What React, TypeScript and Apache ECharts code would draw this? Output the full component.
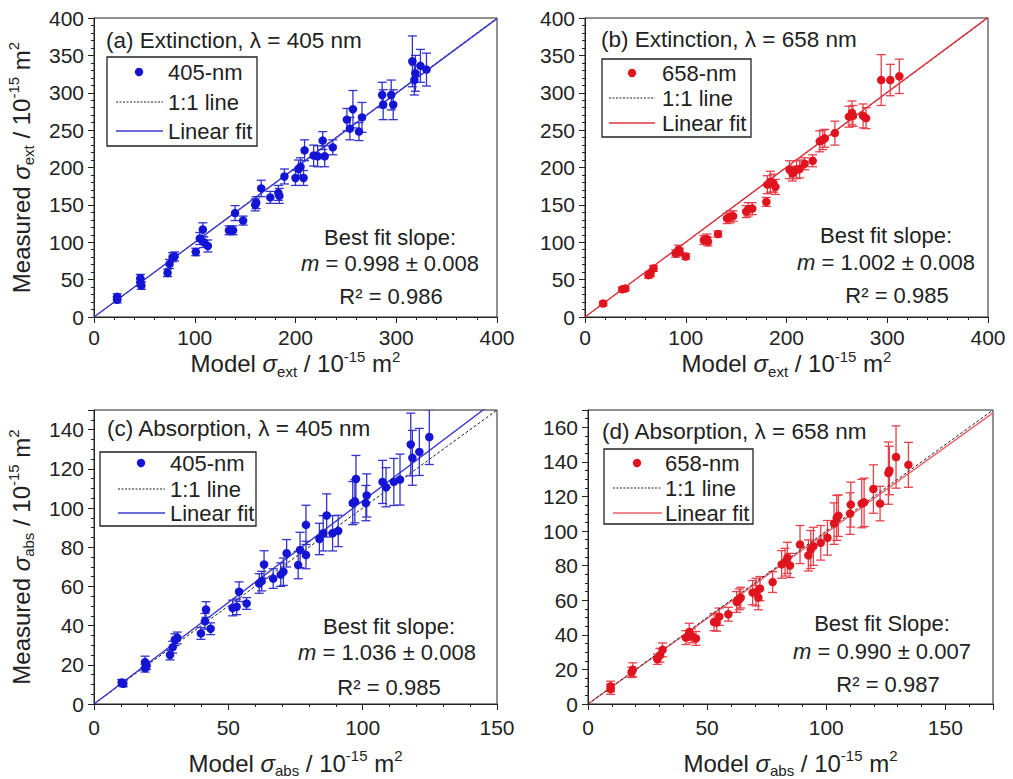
import React, { useEffect, useRef } from 'react';
import * as echarts from 'echarts';

const F = '"Liberation Sans", Arial, Helvetica, sans-serif';

// Panel (a): Extinction 405 nm  (model, measured, error)
const aX = [23, 23, 46, 46, 47, 73, 75, 78, 80, 101, 105, 108, 109, 113, 134, 138, 140, 148, 160, 161, 166, 175, 183, 184, 189, 200, 203, 205, 208, 209, 218, 222, 227, 229, 237, 251, 257, 254, 263, 266, 286, 287, 295, 297, 316, 319, 318, 324, 330];
const aY = [27, 23, 52, 46, 42, 59, 71, 80, 81, 87, 105, 117, 100, 95, 116, 116, 139, 129, 150, 153, 172, 160, 166, 162, 188, 186, 198, 201, 186, 223, 216, 215, 236, 215, 227, 264, 278, 252, 248, 267, 297, 284, 297, 284, 342, 326, 317, 336, 331];
const aE = [4, 4, 5, 5, 5, 5, 6, 6, 6, 5, 8, 9, 7, 8, 6, 6, 10, 6, 8, 8, 11, 8, 10, 10, 10, 10, 12, 12, 10, 14, 14, 14, 12, 14, 10, 15, 25, 15, 12, 20, 17, 20, 20, 20, 34, 24, 20, 22, 22];

// Panel (b): Extinction 658 nm
const bX = [18, 37, 40, 63, 65, 68, 90, 93, 94, 100, 118, 121, 122, 132, 141, 144, 147, 160, 162, 166, 180, 181, 184, 187, 189, 203, 206, 210, 213, 218, 226, 233, 236, 238, 248, 262, 265, 266, 276, 279, 294, 303, 312];
const bY = [18, 37, 38, 56, 58, 65, 85, 90, 87, 81, 103, 104, 101, 111, 132, 134, 135, 141, 144, 145, 154, 177, 181, 179, 174, 197, 192, 197, 198, 205, 209, 235, 237, 239, 246, 268, 273, 269, 269, 266, 317, 317, 322];
const bE = [3, 3, 3, 4, 4, 4, 5, 6, 5, 4, 6, 7, 6, 4, 7, 8, 7, 8, 9, 8, 6, 12, 14, 12, 10, 12, 10, 12, 12, 8, 8, 14, 13, 12, 16, 14, 16, 14, 16, 14, 34, 21, 23];

// Panel (c): Absorption 405 nm
const cX = [10.3, 10.9, 19, 19, 19.6, 28.3, 29.3, 30.1, 31, 39.8, 41.3, 41.7, 43.4, 51.6, 53.1, 54, 56.8, 61.5, 62.4, 63.3, 66.7, 69.5, 70.5, 71.7, 76, 76.7, 78.9, 78.9, 83.9, 85.3, 86.6, 88.8, 90.9, 96.3, 97.1, 97.5, 101.2, 101.5, 107.4, 108.7, 111.6, 113.9, 117.9, 118.5, 121.1, 124.8];
const cY = [11, 10.3, 21.4, 18.3, 19.6, 25, 29, 32.8, 33.7, 36, 42.2, 48.2, 38.4, 49, 49.6, 57.3, 51.3, 61.5, 62.7, 71.2, 64, 66, 67.5, 76.9, 70.9, 78.6, 76, 91.4, 84.2, 87.1, 96.2, 87.1, 88.3, 102.5, 103.4, 114.8, 102.5, 106.4, 113.3, 110.6, 113.3, 114.5, 132.4, 125.6, 128.6, 136.2];
const cE = [1.5, 1.5, 3, 2, 2, 2.5, 3, 3, 3, 3, 4, 4, 3, 4, 4, 5, 3, 5, 5, 7, 5, 6, 7, 7, 7, 9, 7, 10, 8, 9, 11, 9, 8, 11, 11, 12, 9, 11, 11, 10, 12, 13, 16, 14, 12, 14];

// Panel (d): Absorption 658 nm
const dX = [9.5, 9.5, 18.3, 18.8, 29.1, 30.2, 31.3, 41.1, 42.5, 43.5, 45.3, 52.9, 54, 55.1, 58.9, 62.4, 63.5, 64.1, 69.1, 70.5, 71.5, 72.2, 77.5, 81.3, 82.7, 83.7, 84.8, 89, 92.5, 93.5, 94.6, 97.7, 100.5, 103.3, 104.4, 105.1, 110, 110.3, 114.9, 115.9, 119.8, 122.6, 126.1, 126.5, 129.3, 134.5];
const dY = [10.2, 8.6, 18.3, 19.8, 25.9, 28.2, 31.3, 38.4, 41.7, 39.4, 37.9, 47.4, 47.1, 50.5, 51.9, 59, 60.5, 61.5, 64.4, 64.7, 61.5, 66.7, 70.5, 80.7, 82, 84.5, 80.1, 92.2, 85.9, 89.3, 91.2, 93.2, 96.1, 104.3, 107.6, 108.9, 110.1, 115.3, 115.9, 116.6, 124.3, 115.9, 133.5, 135, 142.8, 138.3];
const dE = [3, 3, 3, 4, 3, 4, 4, 4, 5, 4, 4, 5, 5, 5, 4, 6, 6, 6, 7, 8, 7, 7, 6, 8, 8, 9, 7, 11, 9, 11, 11, 10, 10, 12, 13, 12, 12, 13, 14, 14, 14, 10, 18, 14, 18, 13];

const fitSlopes = [0.998, 1.002, 1.036, 0.99];
const axisMax = [400, 400, 150, 170];
const xIntervals = [100, 100, 50, 50];
const yIntervals = [50, 50, 20, 20];
const xMinorSplit = [5, 5, 5, 5];
const yMinorSplit = [5, 5, 4, 4];
const panelTitles = ['(a) Extinction, λ = 405 nm', '(b) Extinction, λ = 658 nm', '(c) Absorption, λ = 405 nm', '(d) Absorption, λ = 658 nm'];
const legendNames = ['405-nm', '658-nm', '405-nm', '658-nm'];
const fitHeads = ['Best fit slope:', 'Best fit slope:', 'Best fit slope:', 'Best fit Slope:'];
const slopeTexts = ['0.998 ± 0.008', '1.002 ± 0.008', '1.036 ± 0.008', '0.990 ± 0.007'];
const r2Texts = ['R² = 0.986', 'R² = 0.985', 'R² = 0.985', 'R² = 0.987'];
const subs = ['ext', 'ext', 'abs', 'abs'];

const BLUE = { mk: '#1414d4', err: '#3232cc', fit: '#3a3acc' };
const RED = { mk: '#e0141e', err: '#e6404a', fit: '#e03440' };
const RED2 = { mk: '#e0141e', err: '#e6404a', fit: '#e8606a' };
const palettes = [BLUE, RED, BLUE, RED2];

const grids = [
  { left: 94, top: 18, width: 403, height: 299 },
  { left: 585, top: 18, width: 403, height: 299 },
  { left: 94, top: 410, width: 403, height: 295 },
  { left: 588, top: 410, width: 405, height: 295 },
];

const legendPos = [
  { bx: 107, by: 57, bw: 150, bh: 89, mx: 139, r1: 72, r2: 102, r3: 131, l1: 116, l2: 163, tx: 168 },
  { bx: 602, by: 59, bw: 149, bh: 78, mx: 632, r1: 73, r2: 98, r3: 123, l1: 609, l2: 655, tx: 662 },
  { bx: 100, by: 452, bw: 156, bh: 74, mx: 141, r1: 463, r2: 489, r3: 513, l1: 118, l2: 165, tx: 170 },
  { bx: 604, by: 449, bw: 149, bh: 75, mx: 637, r1: 463, r2: 488, r3: 513, l1: 613, l2: 662, tx: 665 },
];
const titlePos = [[106, 40], [601, 39], [107, 428], [602, 431]];
const annotPos = [
  [390, 237, 390, 263, 391, 296],
  [886, 235, 886, 262, 897, 295],
  [389, 626, 387, 652, 389, 687],
  [882, 623, 882, 651, 888, 684],
];

const nameRich = {
  t: { fontSize: 24, fontFamily: F, color: '#222', lineHeight: 30 },
  s: { fontSize: 24, fontFamily: F, color: '#222', fontStyle: 'italic', lineHeight: 30 },
  sub: { fontSize: 15, fontFamily: F, color: '#222', verticalAlign: 'bottom', lineHeight: 16 },
  sup: { fontSize: 15, fontFamily: F, color: '#222', verticalAlign: 'top', lineHeight: 16 },
};

function axisName(prefix: string, sub: string) {
  return `{t|${prefix} }{s|σ}{sub|${sub}}{t| / 10}{sup|-15}{t| m}{sup|2}`;
}

function errRender(color: string) {
  return (params: any, api: any) => {
    const x = api.value(0);
    const y = api.value(1);
    const e = api.value(2);
    const top = api.coord([x, y + e]);
    const bot = api.coord([x, y - e]);
    const cw = 4.5;
    const st = { stroke: color, lineWidth: 1.3 };
    return {
      type: 'group',
      children: [
        { type: 'line', shape: { x1: top[0], y1: top[1], x2: bot[0], y2: bot[1] }, style: st },
        { type: 'line', shape: { x1: top[0] - cw, y1: top[1], x2: top[0] + cw, y2: top[1] }, style: st },
        { type: 'line', shape: { x1: bot[0] - cw, y1: bot[1], x2: bot[0] + cw, y2: bot[1] }, style: st },
      ],
    };
  };
}

function txt(text: string, x: number, y: number, align: string, size = 22, rich?: any) {
  return {
    type: 'text',
    x,
    y,
    z: 50,
    style: {
      text,
      fontSize: size,
      fontFamily: F,
      fill: '#222',
      align,
      verticalAlign: 'middle',
      textAlign: align,
      textVerticalAlign: 'middle',
      rich,
    },
  };
}

export default function App() {
  const ref = useRef<HTMLDivElement>(null);
  useEffect(() => {
    if (!ref.current) return;
    const chart = echarts.init(ref.current, undefined, { renderer: 'svg' });
    const panels = [
      [aX, aY, aE],
      [bX, bY, bE],
      [cX, cY, cE],
      [dX, dY, dE],
    ];
    const xAxis: any[] = [];
    const yAxis: any[] = [];
    const series: any[] = [];
    const graphic: any[] = [];
    panels.forEach((p, i) => {
      const [xs, ys, es] = p;
      const pal = palettes[i];
      const max = axisMax[i];
      const xi = xIntervals[i];
      const yi = yIntervals[i];
      const bottom = i >= 2;
      const common = {
        gridIndex: i,
        type: 'value',
        min: 0,
        max,
        axisLine: { show: true, onZero: false, lineStyle: { color: '#222', width: 1 } },
        axisTick: { show: true, length: 6, lineStyle: { color: '#222' } },
        splitLine: { show: false },
      };
      xAxis.push({
        ...common,
        interval: xi,
        minorTick: { show: true, splitNumber: xMinorSplit[i], length: 3, lineStyle: { color: '#222' } },
        axisLabel: {
          fontSize: 21, fontFamily: F, color: '#222', margin: bottom ? 13 : 10,
          formatter: (v: number) => (v % xi === 0 ? String(v) : ''),
        },
        name: axisName('Model', subs[i]),
        nameLocation: 'middle',
        nameGap: bottom ? 44 : 26,
        nameTextStyle: { fontFamily: F, fontSize: 24, color: '#222', rich: nameRich },
      });
      yAxis.push({
        ...common,
        interval: yi,
        minorTick: { show: true, splitNumber: yMinorSplit[i], length: 3, lineStyle: { color: '#222' } },
        axisLabel: {
          fontSize: 21, fontFamily: F, color: '#222', margin: 10,
          formatter: (v: number) => (v % yi === 0 ? String(v) : ''),
        },
        name: i % 2 === 0 ? axisName('Measured', subs[i]) : '',
        nameLocation: 'middle',
        nameRotate: 90,
        nameGap: 58,
        nameTextStyle: { fontFamily: F, fontSize: 24, color: '#222', rich: nameRich },
      });
      const pts = xs.map((x, k) => [x, ys[k], es[k]]);
      const oneToOne = {
        type: 'line', xAxisIndex: i, yAxisIndex: i, data: [[0, 0], [max, max]],
        symbol: 'none', z: i === 3 ? 6 : 3, silent: true,
        lineStyle: { color: '#222', width: 1, type: [3, 2] },
      };
      const fit = {
        type: 'line', xAxisIndex: i, yAxisIndex: i, data: [[0, 0], [max, fitSlopes[i] * max]],
        symbol: 'none', z: 4, silent: true, clip: true,
        lineStyle: { color: pal.fit, width: 1.4 },
      };
      series.push(oneToOne, fit);
      series.push({
        type: 'custom', xAxisIndex: i, yAxisIndex: i, data: pts, z: 5,
        renderItem: errRender(pal.err), encode: { x: 0, y: 1 }, clip: true,
      });
      series.push({
        type: 'scatter', xAxisIndex: i, yAxisIndex: i, data: pts.map((d) => [d[0], d[1]]),
        symbol: 'circle', symbolSize: 8.5, z: 7, itemStyle: { color: pal.mk, opacity: 1 },
      });

      // decorations
      const [tx, ty] = titlePos[i];
      graphic.push(txt(panelTitles[i], tx, ty, 'left', 22.5));
      const L = legendPos[i];
      graphic.push({
        type: 'rect', z: 40, shape: { x: L.bx, y: L.by, width: L.bw, height: L.bh },
        style: { fill: '#fff', stroke: '#222', lineWidth: 1.3 },
      });
      graphic.push({ type: 'circle', z: 45, shape: { cx: L.mx, cy: L.r1, r: 4.2 }, style: { fill: pal.mk } });
      graphic.push({
        type: 'line', z: 45, shape: { x1: L.l1, y1: L.r2, x2: L.l2, y2: L.r2 },
        style: { stroke: '#222', lineWidth: 1, lineDash: [2, 1.5] },
      });
      graphic.push({
        type: 'line', z: 45, shape: { x1: L.l1, y1: L.r3, x2: L.l2, y2: L.r3 },
        style: { stroke: pal.fit, lineWidth: 1.4 },
      });
      graphic.push(txt(legendNames[i], L.tx, L.r1, 'left', 22));
      graphic.push(txt('1:1 line', L.tx, L.r2, 'left', 22));
      graphic.push(txt('Linear fit', L.tx, L.r3, 'left', 22));
      const A = annotPos[i];
      graphic.push(txt(fitHeads[i], A[0], A[1], 'center', 22));
      graphic.push(
        txt(`{i|m} = ${slopeTexts[i]}`, A[2], A[3], 'center', 22, {
          i: { fontStyle: 'italic', fontSize: 22, fontFamily: F, fill: '#222', color: '#222' },
        })
      );
      graphic.push(txt(r2Texts[i], A[4], A[5], 'center', 22));
    });

    chart.setOption({
      animation: false,
      backgroundColor: '#fff',
      grid: grids.map((g) => ({ ...g, show: true, borderColor: '#222', borderWidth: 1, backgroundColor: 'transparent' })),
      xAxis,
      yAxis,
      series,
      graphic,
    });
    return () => chart.dispose();
  }, []);
  return <div ref={ref} style={{ position: 'fixed', left: 0, top: 0, width: 1013, height: 779 }} />;
}
